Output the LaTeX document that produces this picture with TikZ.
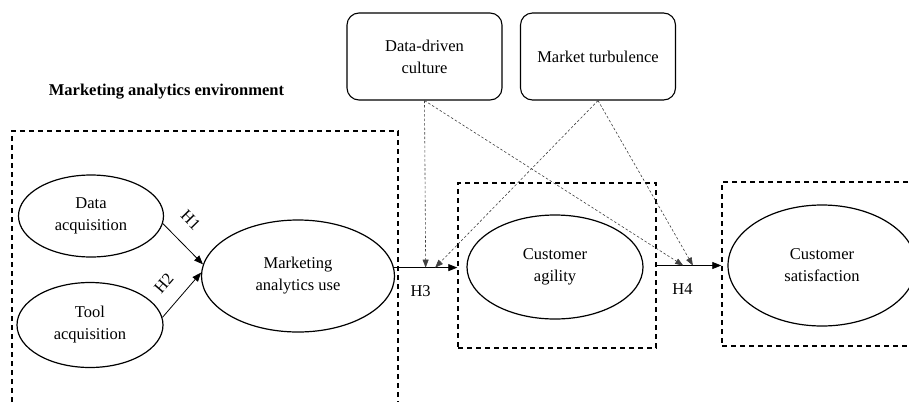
\documentclass[tikz,border=0pt]{standalone}
\usepackage{fontspec}
\setmainfont{Liberation Serif}
\usepackage{tikz}
\usetikzlibrary{shapes.geometric, positioning, arrows.meta, calc}

\tikzset{
    construct/.style={draw, ellipse, line width=1.2pt, inner sep=0pt, align=center},
    moderator/.style={draw, rounded corners=12pt, line width=1.1pt, minimum width=155pt, minimum height=87pt, align=center},
    dashframe/.style={draw, dash pattern=on 5pt off 4pt, line width=1.4pt},
    hyp/.style={-{Triangle[length=9pt, width=7pt]}, line width=0.8pt},
    modarrow/.style={-{Triangle[length=8pt, width=6pt]}, draw=black!75, dash pattern=on 2.5pt off 2pt, line width=0.6pt}
}

\begin{document}
\begin{tikzpicture}[x=1pt, y=-1pt, font=\fontsize{16.5}{22}\selectfont]
        \clip (0,0) rectangle (909,402);
        \node[font=\fontsize{16.5}{22}\selectfont\bfseries] (envtitle) at (166.5,92) {Marketing analytics environment};
        \draw[dashframe] (12,402) -- (12,131) -- (398,131) -- (398,402);

        \node[construct, minimum width=145pt, minimum height=82pt] (dacq) at (91,216) {Data\\acquisition};
        \node[construct, minimum width=146pt, minimum height=85pt] (tacq) at (90,325) {Tool\\acquisition};
        \node[construct, minimum width=193pt, minimum height=112pt] (mause) at (298,276) {Marketing\\analytics use};

        \node[dashframe, minimum width=198pt, minimum height=165pt] (cabox) at (557,265.5) {};
        \node[construct, minimum width=176pt, minimum height=104pt] (cagil) at (555,267) {Customer\\agility};
        \node[dashframe, minimum width=200pt, minimum height=164pt] (csbox) at (822,264) {};
        \node[construct, minimum width=188pt, minimum height=121pt] (csat) at (822,265.5) {Customer\\satisfaction};

        \node[moderator] (ddcult) at (424.5,56.5) {Data-driven\\culture};
        \node[moderator] (mturb) at (598,56.5) {Market turbulence};

        \draw[hyp] (dacq.-6) -- (mause.173) node[pos=0.3, above=13pt, sloped] {H1};
        \draw[hyp] (tacq.6) -- (mause.178) node[pos=0.45, above=12pt, sloped] {H2};
        \draw[hyp] (mause.5) -- (mause.5 -| cabox.west)
            coordinate[pos=0.5] (m3a) coordinate[pos=0.65] (m3b)
            node[pos=0.42, below=14pt] {H3};
        \draw[hyp] (cabox.east) -- (cabox.east -| csbox.west)
            coordinate[pos=0.41] (m4a) coordinate[pos=0.56] (m4b)
            node[pos=0.4, below=14pt] {H4};

        \draw[modarrow] (ddcult.south) -- (m3a);
        \draw[modarrow] (ddcult.south) -- (m4a);
        \draw[modarrow] (mturb.south) -- (m3b);
        \draw[modarrow] (mturb.south) -- (m4b);
    \end{tikzpicture}
\end{document}
